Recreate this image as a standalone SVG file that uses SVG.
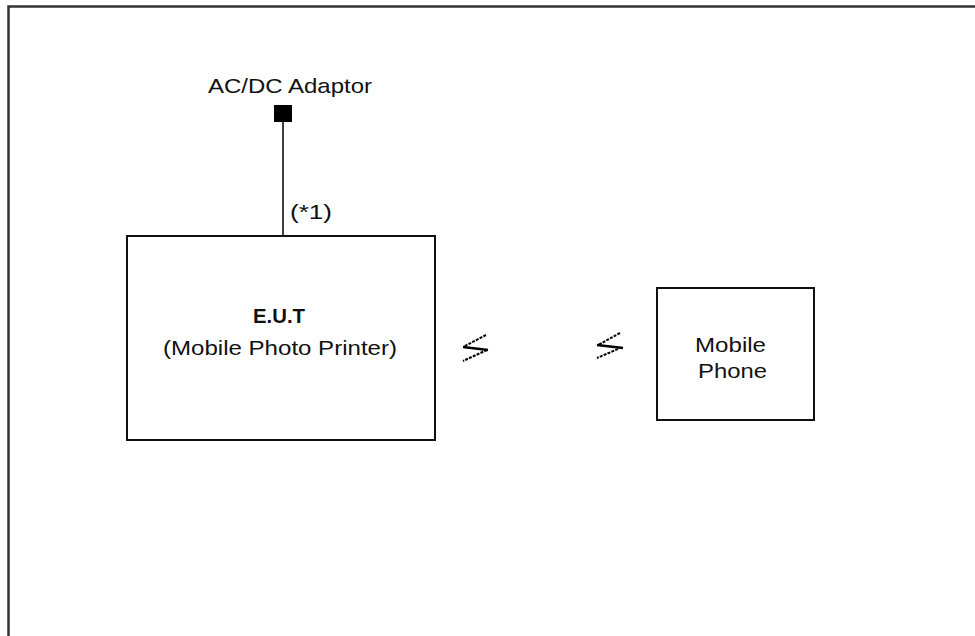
<svg xmlns="http://www.w3.org/2000/svg" width="975" height="636" viewBox="0 0 975 636">
<style>
.box{fill:#fff;stroke:#111;stroke-width:2}
.t{font-family:"Liberation Sans",Arial,sans-serif;font-size:21px;fill:#111}
.b{font-weight:bold}
.zz{fill:none;stroke:#000;stroke-width:2;stroke-dasharray:3,1.2}
.mid{fill:none;stroke:#000;stroke-width:2.4}
</style>
<rect x="0" y="0" width="975" height="636" fill="#fff"/>
<rect x="8.5" y="6.5" width="1000" height="700" fill="none" stroke="#333" stroke-width="2.5"/>
<g id="connectors">
<line x1="283" y1="121" x2="283" y2="236" stroke="#111" stroke-width="1.6"/>
<text class="t" x="290" y="219" textLength="42" lengthAdjust="spacingAndGlyphs">(*1)</text>
</g>
<g id="adaptor">
<rect x="274" y="105" width="18" height="17" fill="#000"/>
<text class="t" x="208" y="93" textLength="164" lengthAdjust="spacingAndGlyphs">AC/DC Adaptor</text>
</g>
<g id="eut">
<rect class="box" x="127" y="236" width="308" height="204"/>
<text class="t b" x="253" y="323" textLength="52" lengthAdjust="spacingAndGlyphs">E.U.T</text>
<text class="t" x="163" y="355" textLength="234" lengthAdjust="spacingAndGlyphs">(Mobile Photo Printer)</text>
</g>
<g id="wireless">
<path class="zz" d="M486,335 L464,346.5"/>
<path class="mid" d="M463,347 L488,350"/>
<path class="zz" d="M487,350 L463,361"/>
<path class="zz" d="M620,333 L599,344.5"/>
<path class="mid" d="M597,345 L623,348"/>
<path class="zz" d="M618,349 L597,358"/>
</g>
<g id="phone">
<rect class="box" x="657" y="288" width="157" height="132"/>
<text class="t" x="695" y="352" textLength="71" lengthAdjust="spacingAndGlyphs">Mobile</text>
<text class="t" x="698" y="378" textLength="69" lengthAdjust="spacingAndGlyphs">Phone</text>
</g>
</svg>
